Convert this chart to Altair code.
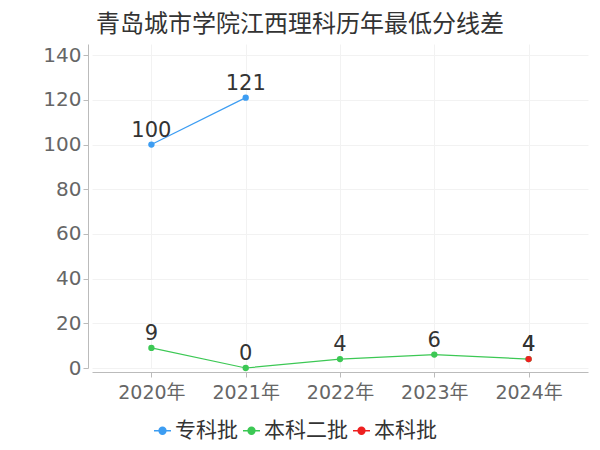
import altair as alt
import pandas as pd

years = ["2020年", "2021年", "2022年", "2023年", "2024年"]
series_names = ["专科批", "本科二批", "本科批"]
colors = ["#3d9df2", "#3cc854", "#ee2020"]

zk_years = ["2020年", "2021年"]
zk_vals = [100, 121]
bk2_years = ["2020年", "2021年", "2022年", "2023年", "2024年"]
bk2_vals = [9, 0, 4, 6, 4]
bk_years = ["2024年"]
bk_vals = [4]

rows = []
for y, v in zip(zk_years, zk_vals):
    rows.append({"year": y, "value": v, "series": "专科批"})
for y, v in zip(bk2_years, bk2_vals):
    rows.append({"year": y, "value": v, "series": "本科二批"})
for y, v in zip(bk_years, bk_vals):
    rows.append({"year": y, "value": v, "series": "本科批"})
df = pd.DataFrame(rows)

FONT = "DejaVu Sans, Noto Sans CJK SC"
CJK = "Noto Sans CJK SC"
SYMBOL = "M -1 0 L 1 0 M -0.4 0 A 0.4 0.4 0 1 1 0.4 0 A 0.4 0.4 0 1 1 -0.4 0 Z"

x = alt.X("year:N", sort=years, title=None,
          scale=alt.Scale(type="point", padding=0.63),
          axis=alt.Axis(labelAngle=0, labelFontSize=19, labelColor="#666", labelFont=FONT,
                        domainColor="#bbb", tickColor="#bbb", tickSize=5, offset=4,
                        grid=True, gridColor="#f2f2f2", labelPadding=6))
y = alt.Y("value:Q", title=None,
          scale=alt.Scale(domain=[0, 145], nice=False),
          axis=alt.Axis(values=[0, 20, 40, 60, 80, 100, 120, 140], labelFontSize=20, labelColor="#666",
                        labelFont=FONT, domainColor="#bbb", tickColor="#bbb", tickSize=5, offset=4,
                        gridColor="#f2f2f2", labelPadding=2))
color = alt.Color("series:N", sort=series_names,
                  scale=alt.Scale(domain=series_names, range=colors),
                  legend=alt.Legend(orient="none", legendX=60, legendY=376, direction="horizontal",
                                    title=None, labelFontSize=21, labelColor="#333",
                                    labelFont=CJK, symbolType=SYMBOL, symbolSize=289,
                                    symbolStrokeWidth=1.5, columnPadding=2, labelOffset=2,
                                    labelLimit=300))

lines = alt.Chart(df).mark_line(strokeWidth=1.2, point=alt.OverlayMarkDef(size=40, filled=True)).encode(
    x=x, y=y, color=color, detail="series:N")
labels = alt.Chart(df).mark_text(dy=-14, fontSize=21, color="#333", font=FONT).encode(
    x=alt.X("year:N", sort=years), y="value:Q", text="value:Q")

chart = alt.layer(lines, labels).properties(
    width=496, height=324,
    title=alt.TitleParams("青岛城市学院江西理科历年最低分线差", fontSize=24, color="#333",
                          fontWeight="normal", font=FONT, anchor="middle", dx=-40, offset=7),
    autosize=alt.AutoSizeParams(type="none"),
    padding={"left": 84, "top": 36, "right": 4, "bottom": 80},
).configure_view(stroke=None)

chart.save("out.html", embed_options={"renderer": "svg", "actions": False})
